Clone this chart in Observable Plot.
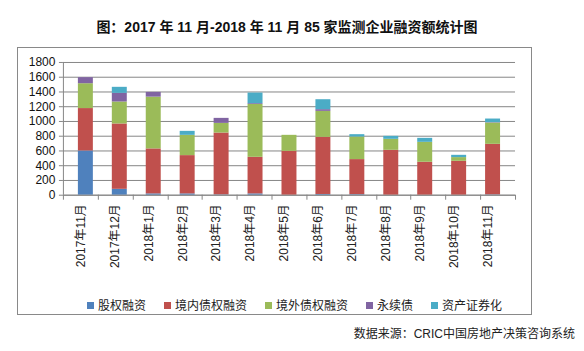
<!DOCTYPE html>
<html>
<head>
<meta charset="utf-8">
<script src="https://cdn.jsdelivr.net/npm/d3@7"></script>
<script src="https://cdn.jsdelivr.net/npm/@observablehq/plot@0.6"></script>
<style>
  html, body { margin: 0; padding: 0; background: #fff; }
  body { width: 584px; height: 351px; position: relative; overflow: hidden;
         font-family: "Liberation Sans", "Noto Sans CJK SC", sans-serif; }
  #title { position: absolute; top: 16px; left: 0; width: 574px; text-align: center;
           font-size: 14px; font-weight: bold; color: #111; white-space: nowrap; }
  #box { position: absolute; left: 17px; top: 47px; width: 513px; height: 266px;
         border: 1px solid #898989; }
  #chart { position: absolute; left: 0; top: 0; }
  #legend { position: absolute; top: 248px; left: 0; width: 553px; text-align: center;
            font-size: 12px; color: #222; white-space: nowrap; }
  #legend span.item { display: inline-block; margin: 0 9px; }
  #legend span.sw { display: inline-block; width: 7px; height: 7px; margin-right: 4px;
                    vertical-align: 1px; }
  #source { position: absolute; top: 324px; right: 9px; font-size: 12px; color: #222; white-space: nowrap; }
</style>
</head>
<body>
<div id="title">图：2017 年 11 月-2018 年 11 月 85 家监测企业融资额统计图</div>
<div id="box">
  <div id="chart"></div>
  <div id="legend"></div>
</div>
<div id="source">数据来源：CRIC中国房地产决策咨询系统</div>
<script>
const months = ["2017年11月","2017年12月","2018年1月","2018年2月","2018年3月","2018年4月","2018年5月","2018年6月","2018年7月","2018年8月","2018年9月","2018年10月","2018年11月"];
const seriesNames = ["股权融资","境内债权融资","境外债权融资","永续债","资产证券化"];
const seriesColors = ["#4F81BD","#C0504D","#9BBB59","#8064A2","#4BACC6"];
const equity      = [600, 80, 18, 18, 5, 18, 0, 10, 8, 0, 0, 0, 5];
const domesticDebt= [575, 886, 610, 519, 838, 496, 595, 775, 475, 609, 447, 460, 685];
const overseasDebt= [337, 298, 702, 275, 131, 716, 217, 352, 306, 149, 270, 50, 289];
const perpetual   = [82, 117, 64, 0, 68, 11, 0, 23, 0, 0, 0, 0, 5];
const abs         = [0, 82, 0, 54, 0, 144, 0, 135, 32, 40, 54, 31, 49];
const yTicks = [0, 200, 400, 600, 800, 1000, 1200, 1400, 1600, 1800];

const seriesValues = [equity, domesticDebt, overseasDebt, perpetual, abs];
const data = [];
months.forEach((m, i) => {
  seriesNames.forEach((s, j) => data.push({month: m, series: s, value: seriesValues[j][i]}));
});

const axisColor = "#868686";

function frameMarks(index, scales, values, dims) {
  const g = d3.create("svg:g").attr("stroke", axisColor).attr("fill", "none");
  const x0 = dims.marginLeft, x1 = dims.width - dims.marginRight;
  const y0 = scales.y(0), yTop = scales.y(1800);
  g.append("line").attr("x1", x0 + 0.5).attr("x2", x0 + 0.5).attr("y1", yTop).attr("y2", y0);
  g.append("line").attr("x1", x0).attr("x2", x1).attr("y1", y0 + 0.5).attr("y2", y0 + 0.5);
  const n = scales.x.domain().length;
  for (let k = 0; k <= n; k++) {
    const xx = Math.round(x0 + k * (x1 - x0) / n) + 0.5;
    g.append("line").attr("x1", xx).attr("x2", xx).attr("y1", y0).attr("y2", y0 + 5);
  }
  return g.node();
}

const chart = Plot.plot({
  width: 514,
  height: 232,
  marginLeft: 45,
  marginRight: 16,
  marginTop: 14,
  marginBottom: 85,
  style: {fontFamily: "'Liberation Sans','Noto Sans CJK SC',sans-serif", fontSize: "12px", color: "#111", background: "transparent"},
  x: {domain: months, paddingInner: 0.57, paddingOuter: 0.285, label: null},
  y: {domain: [0, 1800], label: null},
  color: {domain: seriesNames, range: seriesColors},
  marks: [
    Plot.gridY(yTicks, {stroke: axisColor, strokeOpacity: 1}),
    Plot.barY(data, {x: "month", y: "value", fill: "series"}),
    Plot.axisY(yTicks, {tickSize: 4, tickPadding: 4, stroke: axisColor, fill: "#111", fontSize: 12, label: null, tickFormat: d => String(d)}),
    Plot.axisX({tickRotate: -90, tickSize: 0, tickPadding: 9, dx: -5, fill: "#222", fontSize: 12, label: null}),
    frameMarks
  ]
});
document.getElementById("chart").appendChild(chart);

const legend = document.getElementById("legend");
seriesNames.forEach((s, i) => {
  const item = document.createElement("span");
  item.className = "item";
  const sw = document.createElement("span");
  sw.className = "sw";
  sw.style.background = seriesColors[i];
  item.appendChild(sw);
  item.appendChild(document.createTextNode(s));
  legend.appendChild(item);
});
</script>
</body>
</html>
